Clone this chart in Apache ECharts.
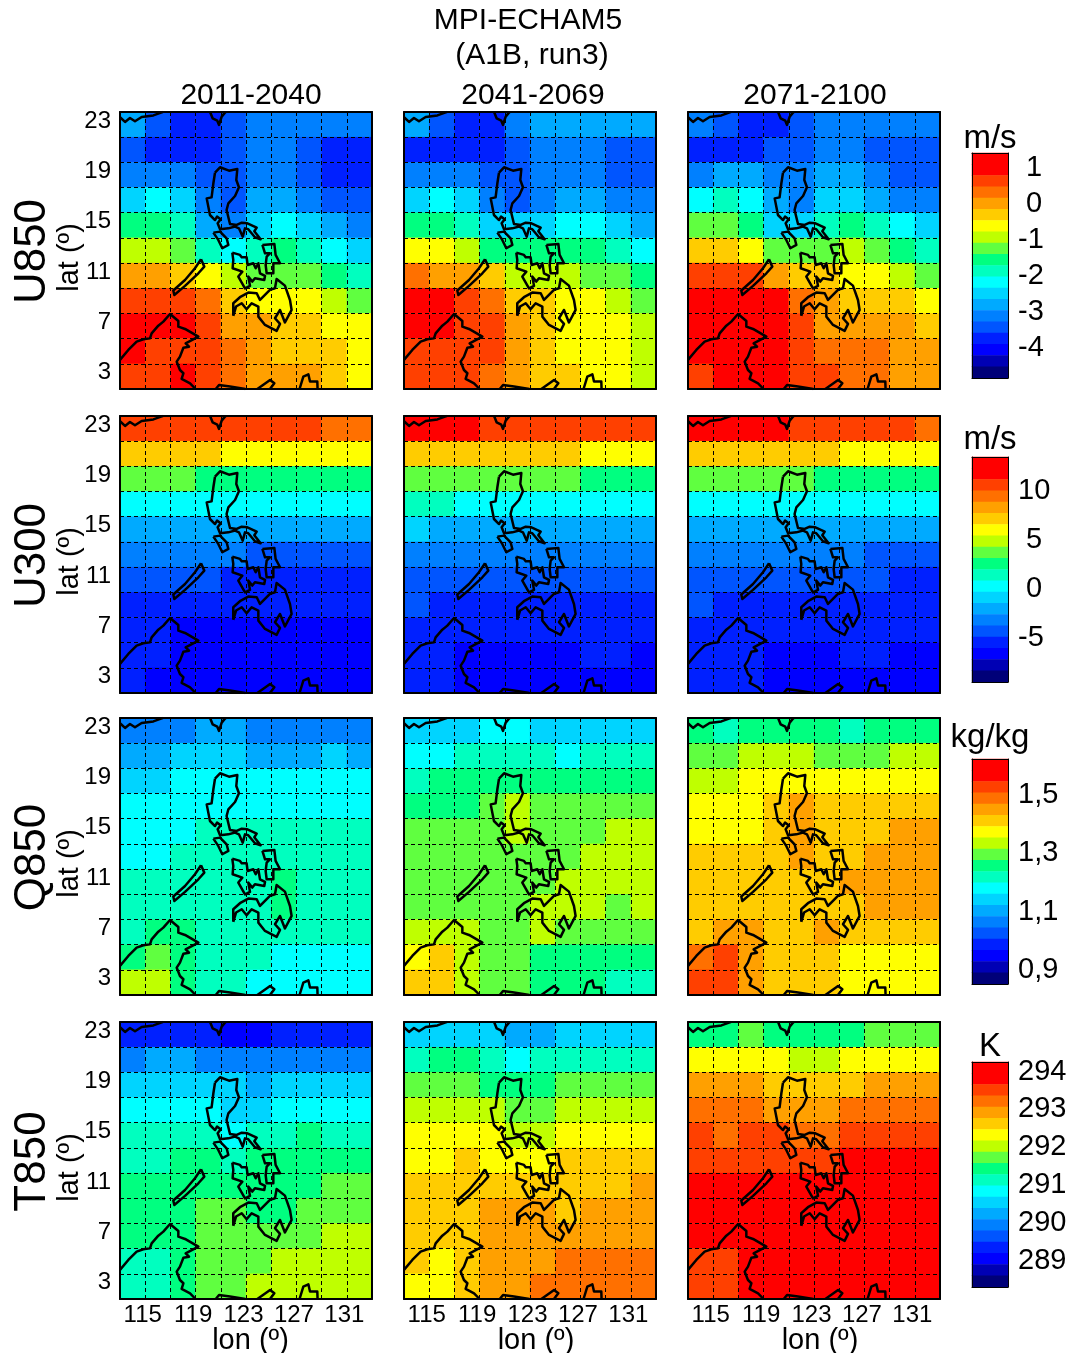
<!DOCTYPE html>
<html>
<head>
<meta charset="utf-8">
<script src="https://cdn.jsdelivr.net/npm/echarts@6/dist/echarts.min.js"></script>
<style>html,body{margin:0;padding:0;background:#fff}#c{width:1072px;height:1353px}</style>
</head>
<body>
<div id="c"></div>
<script>
const periods = ['2011-2040', '2041-2069', '2071-2100'];
const variables = ['U850', 'U300', 'Q850', 'T850'];
const units = ['m/s', 'm/s', 'kg/kg', 'K'];
const lonCells = [114, 116, 118, 120, 122, 124, 126, 128, 130, 132];
const latCells = [22, 20, 18, 16, 14, 12, 10, 8, 6, 4, 2];
const lonTicks = [115, 119, 123, 127, 131];
const latTicks = [3, 7, 11, 15, 19, 23];

// colour bands, top of the colour bar first
const bandColors = ['#ff0000', '#ff0000', '#ff4000', '#ff7000', '#ffa000', '#ffcc00', '#ffff00', '#bfff00', '#60ff40', '#00ff80',
  '#00ffbf', '#00ffff', '#00d4ff', '#00aaff', '#0080ff', '#0055ff', '#0020ff', '#0000ff', '#0000b4', '#000078'];

const barRangeU850 = [-4.9, 1.35];
const barRangeU300 = [-9.7, 13.3];
const barRangeQ850 = [0.845, 1.617];
const barRangeT850 = [288.26, 294.2];
const barTicksU850 = [-4, -3, -2, -1, 0, 1];
const barTicksU300 = [-5, 0, 5, 10];
const barTicksQ850 = [0.9, 1.1, 1.3, 1.5];
const barTicksT850 = [289, 290, 291, 292, 293, 294];
const barLabelsU850 = ['-4', '-3', '-2', '-1', '\u00a00', '\u00a01'];
const barLabelsU300 = ['-5', '\u00a00', '\u00a05', '10'];
const barLabelsQ850 = ['0,9', '1,1', '1,3', '1,5'];
const barLabelsT850 = ['289', '290', '291', '292', '293', '294'];

// rows run north to south, columns west to east
const u850_2011 = [
  [-2.87,-3.49,-3.81,-3.81,-3.49,-3.18,-3.18,-3.18,-3.18,-3.18],
  [-3.49,-3.81,-3.81,-3.81,-3.49,-3.18,-3.18,-3.49,-3.81,-3.81],
  [-3.18,-3.18,-3.18,-3.49,-3.49,-3.18,-3.18,-3.49,-3.81,-3.81],
  [-2.56,-2.24,-2.56,-3.18,-3.49,-2.87,-2.87,-3.18,-3.49,-3.49],
  [-1.62,-1.62,-1.93,-2.87,-3.18,-2.56,-2.24,-2.56,-2.87,-3.18],
  [-0.99,-0.99,-1.31,-1.93,-2.24,-1.93,-1.62,-1.93,-2.24,-2.56],
  [-0.06,-0.06,-0.37,-0.68,-0.99,-1.31,-1.31,-1.31,-1.62,-1.93],
  [0.57,0.57,0.57,0.26,-0.37,-0.68,-0.68,-0.68,-0.99,-1.31],
  [0.88,0.88,0.88,0.57,-0.06,-0.06,-0.37,-0.37,-0.68,-0.68],
  [0.88,0.57,0.57,0.57,0.26,-0.06,-0.37,-0.37,-0.37,-0.68],
  [0.57,0.57,0.88,0.57,0.26,-0.06,-0.06,-0.06,-0.37,-0.68]];
const u850_2041 = [
  [-2.87,-3.49,-3.81,-3.81,-3.18,-2.87,-2.87,-2.87,-2.87,-2.87],
  [-3.81,-3.81,-3.81,-3.81,-3.49,-3.18,-3.18,-3.18,-3.49,-3.49],
  [-3.18,-3.18,-3.18,-3.49,-3.49,-3.18,-3.18,-3.18,-3.49,-3.49],
  [-2.56,-2.24,-2.56,-3.18,-3.49,-3.18,-2.87,-2.87,-3.18,-3.18],
  [-1.62,-1.62,-1.93,-2.56,-2.56,-2.56,-2.24,-2.24,-2.56,-2.87],
  [-0.68,-0.68,-0.99,-1.62,-1.62,-1.62,-1.62,-1.62,-1.93,-2.24],
  [0.26,-0.06,-0.06,-0.37,-0.99,-0.99,-0.99,-1.31,-1.31,-1.62],
  [0.88,0.88,0.57,0.26,-0.37,-0.37,-0.68,-0.68,-0.99,-1.31],
  [0.88,0.88,0.57,0.57,-0.06,-0.37,-0.68,-0.68,-0.68,-0.99],
  [0.57,0.57,0.57,0.57,-0.06,-0.37,-0.68,-0.68,-0.68,-0.99],
  [0.57,0.57,0.57,0.26,-0.06,-0.37,-0.37,-0.68,-0.68,-0.99]];
const u850_2071 = [
  [-3.18,-3.49,-3.81,-3.81,-3.49,-3.18,-3.18,-3.18,-3.18,-3.18],
  [-3.81,-3.81,-3.81,-3.49,-3.49,-3.18,-3.18,-3.49,-3.49,-3.49],
  [-3.18,-2.87,-2.87,-3.18,-3.18,-2.87,-2.87,-3.18,-3.49,-3.49],
  [-2.24,-1.93,-2.24,-2.87,-3.18,-2.56,-2.56,-2.87,-3.18,-3.18],
  [-1.31,-1.31,-1.62,-2.56,-2.56,-1.93,-1.62,-1.93,-2.24,-2.56],
  [-0.37,-0.37,-0.68,-1.31,-1.31,-1.31,-0.99,-1.31,-1.62,-1.93],
  [0.57,0.57,0.57,-0.06,-0.37,-0.37,-0.68,-0.68,-0.99,-1.31],
  [0.88,0.88,0.88,0.88,0.26,-0.06,-0.37,-0.37,-0.37,-0.68],
  [0.88,0.88,0.88,0.88,0.57,-0.06,-0.06,-0.06,-0.06,-0.37],
  [0.88,0.88,0.88,0.88,0.57,0.26,0.26,0.26,-0.06,-0.06],
  [0.57,0.88,0.88,0.88,0.57,0.57,0.26,0.26,-0.06,-0.06]];

const u300_2011 = [
  [10.4,10.4,10.4,10.4,10.4,10.4,10.4,10.4,9.3,9.3],
  [7.0,7.0,7.0,7.0,5.8,5.8,5.8,5.8,5.8,5.8],
  [3.5,3.5,3.5,2.4,2.4,2.4,2.4,2.4,2.4,2.4],
  [0.1,0.1,0.1,0.1,0.1,0.1,0.1,0.1,0.1,0.1],
  [-2.2,-2.2,-2.2,-2.2,-2.2,-2.2,-2.2,-2.2,-2.2,-2.2],
  [-3.4,-3.4,-3.4,-3.4,-3.4,-4.5,-4.5,-4.5,-4.5,-4.5],
  [-4.5,-4.5,-4.5,-4.5,-5.7,-5.7,-5.7,-5.7,-5.7,-5.7],
  [-5.7,-5.7,-5.7,-5.7,-5.7,-5.7,-5.7,-5.7,-5.7,-5.7],
  [-5.7,-5.7,-6.8,-6.8,-6.8,-6.8,-6.8,-6.8,-6.8,-6.8],
  [-5.7,-5.7,-6.8,-6.8,-6.8,-6.8,-6.8,-6.8,-6.8,-6.8],
  [-5.7,-6.8,-6.8,-6.8,-6.8,-6.8,-6.8,-6.8,-6.8,-6.8]];
const u300_2041 = [
  [11.6,11.6,11.6,10.4,10.4,10.4,10.4,10.4,10.4,10.4],
  [7.0,7.0,7.0,7.0,7.0,7.0,7.0,5.8,5.8,5.8],
  [3.5,3.5,3.5,3.5,3.5,3.5,3.5,2.4,2.4,2.4],
  [1.2,1.2,0.1,0.1,0.1,0.1,0.1,0.1,0.1,0.1],
  [-1.1,-2.2,-2.2,-2.2,-2.2,-2.2,-2.2,-2.2,-2.2,-2.2],
  [-3.4,-3.4,-3.4,-3.4,-3.4,-3.4,-3.4,-3.4,-3.4,-3.4],
  [-4.5,-4.5,-4.5,-4.5,-4.5,-4.5,-4.5,-4.5,-4.5,-4.5],
  [-4.5,-5.7,-5.7,-5.7,-5.7,-5.7,-5.7,-5.7,-5.7,-5.7],
  [-5.7,-5.7,-5.7,-5.7,-5.7,-5.7,-5.7,-5.7,-5.7,-5.7],
  [-5.7,-5.7,-6.8,-6.8,-6.8,-6.8,-6.8,-5.7,-5.7,-6.8],
  [-5.7,-5.7,-6.8,-6.8,-6.8,-6.8,-6.8,-6.8,-6.8,-6.8]];
const u300_2071 = [
  [11.6,11.6,11.6,11.6,10.4,10.4,10.4,10.4,10.4,9.3],
  [7.0,7.0,7.0,7.0,7.0,7.0,5.8,5.8,5.8,5.8],
  [3.5,3.5,3.5,3.5,3.5,2.4,2.4,2.4,2.4,2.4],
  [0.1,0.1,0.1,0.1,0.1,0.1,0.1,0.1,0.1,0.1],
  [-2.2,-2.2,-2.2,-2.2,-2.2,-2.2,-2.2,-2.2,-2.2,-2.2],
  [-3.4,-3.4,-3.4,-3.4,-3.4,-3.4,-3.4,-4.5,-4.5,-4.5],
  [-4.5,-4.5,-4.5,-4.5,-4.5,-4.5,-4.5,-4.5,-5.7,-5.7],
  [-4.5,-5.7,-5.7,-5.7,-5.7,-5.7,-5.7,-5.7,-5.7,-5.7],
  [-5.7,-5.7,-5.7,-5.7,-5.7,-5.7,-5.7,-5.7,-5.7,-5.7],
  [-5.7,-5.7,-5.7,-6.8,-6.8,-6.8,-5.7,-5.7,-6.8,-6.8],
  [-5.7,-5.7,-5.7,-6.8,-6.8,-6.8,-6.8,-6.8,-6.8,-6.8]];

const q850_2011 = [
  [1.057,1.057,1.057,1.096,1.096,1.057,1.057,1.057,1.057,1.057],
  [1.096,1.096,1.134,1.134,1.134,1.096,1.096,1.096,1.134,1.096],
  [1.134,1.134,1.173,1.173,1.173,1.173,1.173,1.173,1.173,1.173],
  [1.173,1.173,1.173,1.173,1.173,1.173,1.173,1.173,1.173,1.173],
  [1.173,1.173,1.173,1.212,1.212,1.212,1.212,1.212,1.212,1.212],
  [1.173,1.173,1.212,1.212,1.212,1.212,1.212,1.212,1.212,1.212],
  [1.212,1.212,1.212,1.212,1.212,1.212,1.250,1.212,1.212,1.212],
  [1.212,1.212,1.212,1.212,1.212,1.212,1.250,1.212,1.212,1.212],
  [1.212,1.250,1.250,1.212,1.212,1.212,1.212,1.212,1.212,1.212],
  [1.250,1.289,1.250,1.212,1.212,1.212,1.173,1.173,1.173,1.173],
  [1.327,1.327,1.250,1.212,1.212,1.173,1.173,1.173,1.173,1.173]];
const q850_2041 = [
  [1.134,1.134,1.134,1.173,1.173,1.134,1.134,1.134,1.134,1.134],
  [1.173,1.173,1.212,1.212,1.212,1.212,1.173,1.212,1.212,1.212],
  [1.212,1.250,1.250,1.250,1.250,1.250,1.250,1.250,1.250,1.250],
  [1.250,1.250,1.250,1.289,1.327,1.289,1.289,1.289,1.289,1.289],
  [1.289,1.289,1.289,1.289,1.327,1.289,1.289,1.289,1.327,1.327],
  [1.289,1.289,1.289,1.289,1.289,1.289,1.289,1.327,1.327,1.327],
  [1.289,1.289,1.289,1.289,1.289,1.289,1.327,1.327,1.327,1.327],
  [1.289,1.289,1.289,1.289,1.289,1.327,1.327,1.327,1.289,1.327],
  [1.327,1.327,1.327,1.289,1.289,1.327,1.289,1.289,1.289,1.289],
  [1.366,1.405,1.327,1.289,1.289,1.250,1.250,1.250,1.250,1.250],
  [1.405,1.405,1.327,1.289,1.289,1.250,1.250,1.250,1.212,1.212]];
const q850_2071 = [
  [1.250,1.212,1.250,1.250,1.250,1.250,1.212,1.250,1.250,1.250],
  [1.289,1.289,1.327,1.327,1.327,1.289,1.289,1.289,1.327,1.327],
  [1.327,1.327,1.366,1.366,1.366,1.366,1.366,1.366,1.366,1.366],
  [1.366,1.366,1.366,1.405,1.443,1.405,1.405,1.405,1.405,1.405],
  [1.366,1.366,1.366,1.405,1.443,1.405,1.405,1.405,1.443,1.443],
  [1.405,1.405,1.405,1.405,1.443,1.405,1.405,1.443,1.443,1.443],
  [1.405,1.405,1.405,1.405,1.405,1.405,1.443,1.443,1.443,1.443],
  [1.405,1.405,1.405,1.405,1.405,1.405,1.405,1.443,1.443,1.443],
  [1.405,1.443,1.443,1.405,1.405,1.443,1.405,1.405,1.405,1.405],
  [1.482,1.520,1.443,1.405,1.405,1.405,1.366,1.366,1.366,1.366],
  [1.520,1.520,1.443,1.405,1.405,1.405,1.366,1.366,1.366,1.366]];

const t850_2011 = [
  [289.30,289.30,289.30,289.30,289.00,289.00,289.30,289.30,289.30,289.30],
  [289.89,290.19,290.19,289.89,289.89,289.89,289.89,289.89,289.89,289.89],
  [290.49,290.49,290.49,290.49,290.49,290.19,290.49,290.49,290.49,290.49],
  [290.78,290.78,290.78,290.78,290.49,290.49,290.78,290.78,290.78,290.78],
  [291.08,291.08,291.08,291.08,290.78,291.08,291.08,291.38,291.08,291.08],
  [291.08,291.08,291.38,291.38,291.08,291.38,291.38,291.38,291.38,291.38],
  [291.38,291.38,291.38,291.38,291.38,291.38,291.38,291.38,291.67,291.67],
  [291.38,291.38,291.38,291.67,291.67,291.38,291.38,291.67,291.67,291.67],
  [291.38,291.38,291.38,291.67,291.67,291.67,291.67,291.67,291.97,291.97],
  [291.08,291.08,291.38,291.67,291.67,291.67,291.97,291.97,291.97,291.97],
  [291.08,291.08,291.38,291.67,291.67,291.97,291.97,291.97,291.97,291.97]];
const t850_2041 = [
  [290.49,290.49,290.49,290.49,290.19,290.19,290.49,290.49,290.49,290.49],
  [291.08,291.38,291.38,291.08,290.78,291.08,291.08,291.08,291.08,291.08],
  [291.67,291.67,291.67,291.38,291.38,291.38,291.67,291.67,291.67,291.67],
  [291.97,291.97,291.97,291.97,291.67,291.67,291.97,291.97,291.97,291.97],
  [292.27,292.27,292.27,292.27,291.97,291.97,292.27,292.27,292.27,292.27],
  [292.27,292.27,292.57,292.27,292.27,292.27,292.57,292.57,292.57,292.57],
  [292.57,292.57,292.57,292.57,292.57,292.57,292.57,292.57,292.57,292.86],
  [292.57,292.57,292.57,292.86,292.86,292.86,292.57,292.86,292.86,292.86],
  [292.57,292.57,292.57,292.86,292.86,292.86,292.86,292.86,292.86,292.86],
  [292.57,292.27,292.57,292.86,292.86,292.86,293.16,293.16,293.16,293.16],
  [292.27,292.27,292.57,292.86,292.86,293.16,293.16,293.16,293.16,293.16]];
const t850_2071 = [
  [291.38,291.38,291.67,291.38,291.38,291.38,291.38,291.67,291.67,291.67],
  [292.27,292.27,292.27,292.27,291.97,291.97,292.27,292.27,292.27,292.27],
  [292.86,292.86,292.86,292.57,292.57,292.57,292.57,292.86,292.86,292.86],
  [293.16,293.16,293.16,292.86,292.86,292.86,293.16,293.16,293.16,293.16],
  [293.46,293.16,293.46,293.46,293.16,293.16,293.46,293.46,293.46,293.46],
  [293.46,293.46,293.46,293.46,293.46,293.46,293.75,293.75,293.75,293.75],
  [293.75,293.75,293.75,293.75,293.75,293.75,293.75,293.75,293.75,293.75],
  [293.75,293.75,293.75,293.75,293.75,293.75,293.75,293.75,293.75,293.75],
  [293.75,293.75,293.75,293.75,293.75,293.75,293.75,293.75,293.75,293.75],
  [293.46,293.46,293.75,293.75,293.75,293.75,293.75,293.75,293.75,293.75],
  [293.46,293.46,293.75,293.75,293.75,293.75,293.75,293.75,293.75,293.75]];

// coastlines as [lon, lat]
const coastLuzon = [[120.54,18.18],[120.94,18.61],[121.65,18.34],[122.31,18.47],[122.23,17.60],[122.44,17.02],[122.13,16.33],[121.60,15.75],[121.46,15.22],[121.73,14.11],[122.26,14.03],[122.66,14.21],[123.11,14.16],[123.85,13.82],[123.66,13.53],[124.16,12.89],[123.71,13.05],[123.18,13.69],[122.92,13.76],[122.74,13.10],[122.44,13.76],[122.13,13.90],[121.60,13.76],[120.94,13.69],[120.75,14.16],[120.99,14.48],[120.70,14.69],[120.54,14.42],[120.14,14.82],[119.88,16.14],[120.27,16.22],[120.41,17.34],[120.54,18.18]];
const coastMindoro = [[120.41,13.42],[120.94,13.50],[121.46,12.97],[121.60,12.44],[121.12,12.18],[120.80,12.84],[120.41,13.42]];
const coastSamar = [[124.30,12.44],[125.25,12.52],[125.35,11.65],[125.70,10.99],[125.17,10.99],[125.17,10.19],[124.64,10.19],[124.56,10.85],[124.64,11.52],[124.90,11.78],[124.51,11.78],[124.30,12.44]];
const coastPanay = [[121.91,11.83],[122.52,11.65],[122.66,11.46],[123.05,11.46],[123.13,10.85],[123.58,10.99],[123.77,10.59],[123.98,10.99],[124.11,10.19],[124.51,9.98],[124.45,9.66],[123.71,9.80],[123.50,9.53],[123.18,9.93],[123.32,9.19],[122.92,8.99],[122.39,9.93],[122.71,10.32],[121.94,10.59],[121.99,11.25],[121.91,11.83]];
const coastPalawan = [[119.43,11.30],[119.69,10.72],[119.22,10.19],[118.16,9.19],[117.31,8.47],[117.23,8.82],[118.16,9.66],[118.95,10.59],[119.43,11.30]];
const coastMindanao = [[121.99,6.81],[121.99,7.81],[122.52,8.29],[123.18,8.66],[123.85,8.61],[124.11,8.07],[124.90,8.87],[125.30,9.00],[125.43,9.74],[126.09,9.21],[126.49,8.07],[126.62,7.28],[126.09,6.28],[125.70,7.28],[125.30,6.62],[125.70,6.17],[125.43,5.62],[124.51,6.09],[123.98,6.75],[123.98,7.55],[123.45,7.81],[123.05,7.34],[122.66,7.81],[122.21,7.55],[121.99,6.81]];
const coastBorneo = [[113.00,3.31],[113.66,4.10],[114.32,4.76],[114.85,4.95],[115.38,5.02],[115.51,5.42],[116.04,6.03],[116.44,6.35],[116.97,6.96],[117.63,6.40],[117.63,5.95],[118.16,5.77],[119.22,5.16],[118.21,4.63],[118.48,4.36],[118.03,4.28],[117.76,3.57],[117.50,3.17],[117.76,2.51],[118.03,2.25],[117.89,1.80],[118.56,1.45],[119.00,1.00]];
const coastSulawesiA = [[120.60,1.00],[120.86,1.32],[121.73,1.19],[122.95,1.00]];
const coastSulawesiB = [[123.90,1.00],[124.91,1.72],[125.25,1.46],[124.90,1.00]];
const coastHalmahera = [[127.25,1.00],[127.55,1.98],[127.95,2.17],[128.08,1.59],[128.66,1.59],[128.68,1.00]];
const coastChina = [[113.00,22.58],[113.40,22.21],[113.79,22.52],[114.19,22.26],[114.72,22.60],[115.65,22.73],[116.31,22.97],[116.40,23.00]];
const coastTaiwan = [[120.15,23.00],[120.35,22.50],[120.72,22.31],[120.86,21.97],[121.07,22.63],[121.33,22.95],[121.40,23.00]];

const panelData = [
  [u850_2011, u850_2041, u850_2071],
  [u300_2011, u300_2041, u300_2071],
  [q850_2011, q850_2041, q850_2071],
  [t850_2011, t850_2041, t850_2071]];
const barRanges = [barRangeU850, barRangeU300, barRangeQ850, barRangeT850];
const barTicks = [barTicksU850, barTicksU300, barTicksQ850, barTicksT850];
const barLabels = [barLabelsU850, barLabelsU300, barLabelsQ850, barLabelsT850];
const coasts = [coastLuzon, coastMindoro, coastSamar, coastPanay, coastPalawan, coastMindanao, coastBorneo, coastSulawesiA, coastSulawesiB, coastHalmahera, coastChina, coastTaiwan];

const FONT = '"Liberation Sans", Arial, sans-serif';
const panelLefts = [120, 404, 688];
const panelTops = [112, 416, 718, 1022];
const barTops = [153, 457, 759, 1062];
const unitY = [139, 440, 738, 1047];
const lonNamePad = [9, 12, 12];
const panelW = 252, panelH = 277, barLeft = 972, barW = 36, barH = 225;

const grid = [], xAxis = [], yAxis = [], series = [], visualMap = [], graphic = [];
const coastLine = [];
coasts.forEach((c, i) => { if (i) coastLine.push(['-', '-']); c.forEach(p => coastLine.push(p)); });

function frameAxis(extra) {
  return Object.assign({
    type: 'category', z: 6, silent: true,
    axisLine: { show: true, onZero: false, lineStyle: { color: '#000', width: 2 } },
    axisTick: { show: false }, axisLabel: { show: false }, splitLine: { show: false }
  }, extra);
}

for (let row = 0; row < 4; row++) {
  const rowSeries = [];
  for (let col = 0; col < 3; col++) {
    const g = grid.length;
    grid.push({ left: panelLefts[col], top: panelTops[row], width: panelW, height: panelH, outerBoundsMode: 'none' });
    const xi = xAxis.length, yi = yAxis.length;
    xAxis.push(frameAxis({ gridIndex: g, position: 'top', data: lonCells }));
    yAxis.push(frameAxis({ gridIndex: g, position: 'right', data: latCells.slice().reverse() }));
    xAxis.push({
      type: 'value', gridIndex: g, position: 'bottom', min: 113, max: 133, interval: 2, z: 5, silent: true,
      name: row === 3 ? 'lon (º)' : '', nameLocation: 'middle', nameGap: 27, nameMoveOverlap: false,
      nameTextStyle: { fontFamily: FONT, fontSize: 29, color: '#000', padding: [0, 0, 0, lonNamePad[col]] },
      axisLine: { show: true, onZero: false, lineStyle: { color: '#000', width: 2 } },
      axisTick: { show: false },
      axisLabel: {
        show: row === 3, margin: 4, fontFamily: FONT, fontSize: 24, color: '#000', padding: [0, 5, 0, 0],
        hideOverlap: false, showMinLabel: true, showMaxLabel: true, interval: 0,
        formatter: v => lonTicks.includes(v) ? String(v) : ''
      },
      splitLine: { show: true, lineStyle: { color: '#000', width: 1, type: [4, 3] } }
    });
    yAxis.push({
      type: 'value', gridIndex: g, position: 'left', min: 1, max: 23, interval: 2, z: 5, silent: true,
      name: col === 0 ? 'lat (º)' : '', nameLocation: 'middle', nameGap: 36, nameRotate: 90, nameMoveOverlap: false,
      nameTextStyle: { fontFamily: FONT, fontSize: 29, color: '#000', padding: [0, 14, 0, 0] },
      axisLine: { show: true, onZero: false, lineStyle: { color: '#000', width: 2 } },
      axisTick: { show: false },
      axisLabel: {
        show: col === 0, margin: 9, fontFamily: FONT, fontSize: 24, color: '#000',
        verticalAlign: 'top', lineHeight: 18,
        hideOverlap: false, showMinLabel: true, showMaxLabel: true, interval: 0,
        formatter: v => latTicks.includes(v) ? String(v) : ''
      },
      splitLine: { show: true, lineStyle: { color: '#000', width: 1, type: [4, 3] } }
    });
    const cells = [];
    panelData[row][col].forEach((rowVals, r) => rowVals.forEach((v, c) => cells.push([c, latCells.length - 1 - r, v])));
    rowSeries.push(series.length);
    series.push({
      type: 'heatmap', xAxisIndex: xi, yAxisIndex: yi, data: cells, z: 2, silent: true,
      animation: false, progressive: 0, itemStyle: { borderWidth: 0 }
    });
    series.push({
      type: 'line', xAxisIndex: xi + 1, yAxisIndex: yi + 1, data: coastLine, z: 4, silent: true,
      showSymbol: false, symbol: 'none', connectNulls: false, animation: false,
      lineStyle: { color: '#000', width: 2.5, join: 'round' }
    });
  }

  // colour bar
  const [bmin, bmax] = barRanges[row];
  const step = (bmax - bmin) / bandColors.length;
  const pieces = bandColors.map((color, i) => ({
    min: bmax - (i + 1) * step, max: bmax - i * step, color
  }));
  const g = grid.length;
  grid.push({ left: barLeft, top: barTops[row], width: barW, height: barH, outerBoundsMode: 'none' });
  const xi = xAxis.length, yi = yAxis.length;
  const bandIdx = bandColors.map((_, i) => i);
  xAxis.push(frameAxis({ gridIndex: g, position: 'top', data: ['bar'], axisLine: { show: true, onZero: false, lineStyle: { color: '#000', width: 1 } } }));
  xAxis.push(frameAxis({ gridIndex: g, position: 'bottom', data: ['bar'], axisLine: { show: true, onZero: false, lineStyle: { color: '#000', width: 1 } } }));
  yAxis.push(frameAxis({ gridIndex: g, position: 'left', data: bandIdx, axisLine: { show: true, onZero: false, lineStyle: { color: '#000', width: 1 } } }));
  const ticks = barTicks[row], labels = barLabels[row];
  yAxis.push({
    type: 'value', gridIndex: g, position: 'right', min: bmin, max: bmax, z: 6, silent: true,
    axisLine: { show: true, onZero: false, lineStyle: { color: '#000', width: 1 } },
    axisTick: { show: false }, splitLine: { show: false },
    axisLabel: {
      margin: 10, fontFamily: FONT, fontSize: 29, color: '#000', align: 'left',
      verticalAlign: 'top', lineHeight: 4,
      hideOverlap: false, customValues: ticks,
      formatter: v => { const i = ticks.findIndex(t => Math.abs(t - v) < 1e-6); return i >= 0 ? labels[i] : ''; }
    }
  });
  rowSeries.push(series.length);
  series.push({
    type: 'heatmap', xAxisIndex: xi, yAxisIndex: yi, z: 2, silent: true, animation: false, progressive: 0,
    data: bandColors.map((_, i) => [0, bandColors.length - 1 - i, bmax - (i + 0.5) * step])
  });
  visualMap.push({ type: 'piecewise', show: false, dimension: 2, seriesIndex: rowSeries, pieces });

  // row and unit captions
  const top = panelTops[row];
  graphic.push({
    type: 'text', x: 33, y: top + panelH / 2 + 1, rotation: Math.PI / 2, silent: true,
    style: { text: variables[row], fontFamily: FONT, fontSize: 44, fill: '#000', align: 'center', verticalAlign: 'middle' }
  });
  graphic.push({
    type: 'text', x: 990, y: unitY[row], silent: true,
    style: { text: units[row], fontFamily: FONT, fontSize: 33, fill: '#000', align: 'center', verticalAlign: 'middle' }
  });
}

periods.forEach((p, i) => graphic.push({
  type: 'text', x: [251, 533, 815][i], y: 96, silent: true,
  style: { text: p, fontFamily: FONT, fontSize: 30, fill: '#000', align: 'center', verticalAlign: 'middle' }
}));
[['MPI-ECHAM5', 528, 21], ['(A1B, run3)', 532, 56]].forEach(([t, x, y]) => graphic.push({
  type: 'text', x, y, silent: true,
  style: { text: t, fontFamily: FONT, fontSize: 30, fill: '#000', align: 'center', verticalAlign: 'middle' }
}));

const chart = echarts.init(document.getElementById('c'), null, { renderer: 'canvas', width: 1072, height: 1353 });
chart.setOption({
  backgroundColor: '#fff', animation: false, grid, xAxis, yAxis, series, visualMap, graphic,
  tooltip: { show: false }, legend: { show: false }
});
</script>
</body>
</html>
